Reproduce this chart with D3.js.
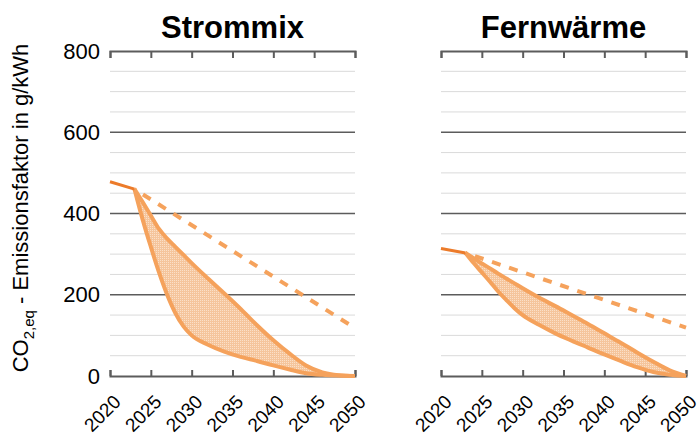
<!DOCTYPE html>
<html>
<head>
<meta charset="utf-8">
<script src="https://cdn.jsdelivr.net/npm/d3@7"></script>
<style>
  body { margin: 0; background: #fff; }
  text { font-family: "Liberation Sans", Arial, sans-serif; fill: #000; }
</style>
</head>
<body>
<div id="chart"></div>
<script>
// ---- data ----
const panelTitles = ["Strommix", "Fernwärme"];
const xTicks = [2020, 2025, 2030, 2035, 2040, 2045, 2050];
const yTicks = [0, 200, 400, 600, 800];
const yMinor = [50, 100, 150, 250, 300, 350, 450, 500, 550, 650, 700, 750];

const bandYears = [2023, 2024, 2025, 2026, 2027, 2028, 2029, 2030, 2032, 2034, 2036, 2038, 2040, 2042, 2044, 2046, 2048, 2050];

// Strommix
const stromHist = [[2020, 478], [2023, 460]];
const stromTrend = [[2023, 460], [2050, 118]];
const stromUpper = [460, 428, 395, 362, 338, 318, 298, 278, 240, 203, 165, 125, 88, 55, 26, 9, 2, 0];
const stromLower = [460, 385, 318, 255, 200, 155, 122, 100, 77, 60, 47, 37, 26, 16, 7, 3, 1, 0];

// Fernwärme
const fernHist = [[2020, 314], [2023, 303]];
const fernTrend = [[2023, 303], [2050, 119]];
const fernUpper = [303, 290, 277, 265, 252, 240, 228, 216, 193, 172, 150, 128, 105, 82, 58, 35, 14, 0];
const fernLower = [303, 278, 255, 232, 208, 187, 167, 150, 126, 105, 87, 70, 53, 37, 22, 10, 3, 0];

const panels = [
  { title: panelTitles[0], left: 110, hist: stromHist, trend: stromTrend, upper: stromUpper, lower: stromLower, yLabels: true },
  { title: panelTitles[1], left: 441, hist: fernHist, trend: fernTrend, upper: fernUpper, lower: fernLower, yLabels: false }
];

const W = 700, H = 438;
const plotW = 245, plotTop = 51, plotBottom = 376;

const svg = d3.select("#chart").append("svg")
  .attr("width", W)
  .attr("height", H);

// dotted fill like the original hatch
const defs = svg.append("defs");
const pat = defs.append("pattern")
  .attr("id", "dots")
  .attr("width", 2).attr("height", 2)
  .attr("patternUnits", "userSpaceOnUse");
pat.append("rect").attr("width", 2).attr("height", 2).attr("fill", "#f5c59c");
pat.append("rect").attr("width", 1).attr("height", 1).attr("fill", "#fbe0c8");

const y = d3.scaleLinear().domain([0, 800]).range([plotBottom, plotTop]);

const lightOrange = "#f5a25c";
const darkOrange = "#ec7b2a";

panels.forEach(p => {
  const x = d3.scaleLinear().domain([2020, 2050]).range([p.left, p.left + plotW]);
  const g = svg.append("g");

  // minor gridlines
  g.selectAll(".minor").data(yMinor).enter().append("line")
    .attr("x1", x(2020)).attr("x2", x(2050))
    .attr("y1", d => y(d)).attr("y2", d => y(d))
    .attr("stroke", "#dadada").attr("stroke-width", 1);

  // major gridlines
  g.selectAll(".major").data([200, 400, 600]).enter().append("line")
    .attr("x1", x(2020)).attr("x2", x(2050))
    .attr("y1", d => y(d)).attr("y2", d => y(d))
    .attr("stroke", "#5c5c5c").attr("stroke-width", 1.6);

  // top border with ticks pointing down
  const topAxis = g.append("g")
    .attr("transform", `translate(0,${y(800)})`)
    .call(d3.axisBottom(x).tickValues(xTicks).tickSize(7).tickFormat(""));
  // bottom axis with ticks pointing up
  const botAxis = g.append("g")
    .attr("transform", `translate(0,${y(0)})`)
    .call(d3.axisTop(x).tickValues(xTicks).tickSize(6).tickFormat(""));
  [topAxis, botAxis].forEach(a => {
    a.selectAll("path, line").attr("stroke", "#5c5c5c").attr("stroke-width", 2);
  });

  // rotated year labels
  g.selectAll(".xl").data(xTicks).enter().append("text")
    .attr("transform", d => `translate(${x(d) + 12},${y(0) + 27}) rotate(-45)`)
    .attr("text-anchor", "end")
    .style("font-size", "19px")
    .text(d => d);

  if (p.yLabels) {
    const yAxis = g.append("g")
      .attr("transform", `translate(${x(2020)},0)`)
      .call(d3.axisLeft(y).tickValues(yTicks).tickSize(0).tickPadding(10));
    yAxis.select(".domain").remove();
    yAxis.selectAll("text")
      .style("font-size", "22px")
      .style("font-family", "'Liberation Sans', Arial, sans-serif")
      .attr("fill", "#000");
  }

  // band between scenarios
  const band = bandYears.map((yr, i) => ({ yr, hi: p.upper[i], lo: p.lower[i] }));
  g.append("path")
    .datum(band)
    .attr("fill", "url(#dots)")
    .attr("d", d3.area()
      .curve(d3.curveMonotoneX)
      .x(d => x(d.yr))
      .y0(d => y(d.lo))
      .y1(d => y(d.hi)));

  const line = d3.line().curve(d3.curveMonotoneX).x(d => x(d[0])).y(d => y(d[1]));

  [p.upper, p.lower].forEach(series => {
    g.append("path")
      .datum(bandYears.map((yr, i) => [yr, series[i]]))
      .attr("fill", "none")
      .attr("stroke", lightOrange)
      .attr("stroke-width", 4)
      .attr("stroke-linejoin", "round")
      .attr("d", line);
  });

  // trend (dashed)
  g.append("path")
    .datum(p.trend)
    .attr("fill", "none")
    .attr("stroke", lightOrange)
    .attr("stroke-width", 4)
    .attr("stroke-dasharray", "9,9")
    .attr("stroke-dashoffset", -10)
    .attr("d", d3.line().x(d => x(d[0])).y(d => y(d[1])));

  // historic
  g.append("path")
    .datum(p.hist)
    .attr("fill", "none")
    .attr("stroke", darkOrange)
    .attr("stroke-width", 3)
    .attr("d", d3.line().x(d => x(d[0])).y(d => y(d[1])));

  // title
  g.append("text")
    .attr("x", x(2035))
    .attr("y", 38)
    .attr("text-anchor", "middle")
    .style("font-size", "31px")
    .style("font-weight", "bold")
    .text(p.title);
});

// y axis title with subscript
const yt = svg.append("text")
  .attr("transform", `translate(28,208) rotate(-90)`)
  .attr("text-anchor", "middle")
  .style("font-size", "22px");
yt.append("tspan").text("CO");
yt.append("tspan").attr("dy", 6).style("font-size", "15px").text("2,eq");
yt.append("tspan").attr("dy", -6).text(" - Emissionsfaktor in g/kWh");
</script>
</body>
</html>
